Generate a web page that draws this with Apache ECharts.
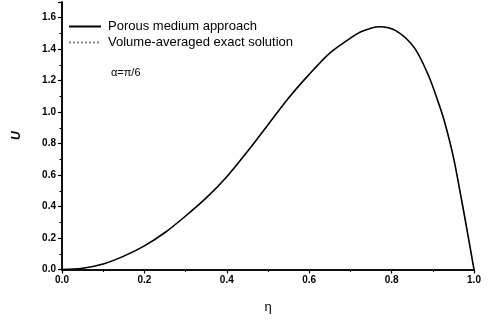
<!DOCTYPE html>
<html>
<head>
<meta charset="utf-8">
<script src="https://cdn.jsdelivr.net/npm/echarts@6/dist/echarts.min.js"></script>
<style>
html,body{margin:0;padding:0;background:#fff;}
#chart{width:489px;height:322px;}
</style>
</head>
<body>
<div id="chart"></div>
<script>
var etaValues = [0, 0.05, 0.1, 0.15, 0.2, 0.25, 0.3, 0.35, 0.4, 0.45, 0.5, 0.55, 0.6, 0.65, 0.7, 0.73, 0.77, 0.81, 0.855, 0.89, 0.915, 0.93, 0.95, 0.97, 0.986, 1.0];
var porousU = [0, 0.008, 0.035, 0.085, 0.15, 0.235, 0.34, 0.455, 0.59, 0.75, 0.92, 1.09, 1.24, 1.375, 1.47, 1.515, 1.543, 1.518, 1.41, 1.23, 1.05, 0.925, 0.714, 0.44, 0.208, 0];
var exactU = [0, 0.008, 0.035, 0.085, 0.15, 0.235, 0.34, 0.455, 0.59, 0.75, 0.92, 1.09, 1.24, 1.375, 1.47, 1.515, 1.543, 1.518, 1.41, 1.23, 1.05, 0.925, 0.714, 0.44, 0.208, 0];
var seriesNames = ['Porous medium approach', 'Volume-averaged exact solution'];
var annotation = 'α=π/6';
var xName = 'η';
var yName = 'U';

function pairs(xs, ys) { return xs.map(function (x, i) { return [x, ys[i]]; }); }

var FONT = 'Arial, "Liberation Sans", sans-serif';
var chart = echarts.init(document.getElementById('chart'));
var axisLine = { show: true, lineStyle: { color: '#000', width: 1.5 } };
chart.setOption({
  animation: false,
  backgroundColor: '#fff',
  grid: { left: 62, right: 15, top: 2, bottom: 52.5 },
  legend: {
    orient: 'vertical', left: 68, top: 20, padding: 0, itemWidth: 32, itemHeight: 14, itemGap: 3,
    itemStyle: { opacity: 0, borderWidth: 0 },
    textStyle: { fontFamily: FONT, fontSize: 13, color: '#000', padding: [0, 0, 0, 2] },
    data: seriesNames
  },
  xAxis: [{
    type: 'value', min: 0, max: 1, interval: 0.2,
    name: xName, nameLocation: 'middle', nameGap: 31,
    nameTextStyle: { fontFamily: FONT, fontSize: 13, color: '#000' },
    axisLine: axisLine,
    axisTick: { show: true, inside: false, length: 4, lineStyle: { color: '#000', width: 1.2 } },
    minorTick: { show: true, splitNumber: 2, length: 2.5, lineStyle: { color: '#000', width: 1 } },
    axisLabel: { fontFamily: FONT, fontSize: 10, fontWeight: 'bold', color: '#000', margin: 6,
      formatter: function (v) { return v.toFixed(1); } },
    splitLine: { show: false }
  }, {
    type: 'value', min: 0, max: 1, interval: 0.2, position: 'top',
    axisLine: axisLine,
    axisTick: { show: true, inside: true, length: 3, lineStyle: { color: '#000' } },
    axisLabel: { show: false }, splitLine: { show: false }
  }],
  yAxis: [{
    type: 'value', min: 0, max: 1.7, interval: 0.2,
    name: yName, nameLocation: 'middle', nameGap: 39, nameRotate: 90,
    nameTextStyle: { fontFamily: FONT, fontSize: 12, fontWeight: 'bold', fontStyle: 'italic', color: '#000' },
    axisLine: axisLine,
    axisTick: { show: true, inside: false, length: 4, lineStyle: { color: '#000', width: 1.2 } },
    minorTick: { show: true, splitNumber: 2, length: 2.5, lineStyle: { color: '#000', width: 1 } },
    axisLabel: { fontFamily: FONT, fontSize: 10, fontWeight: 'bold', color: '#000', margin: 6, showMaxLabel: false,
      formatter: function (v) { return v.toFixed(1); } },
    splitLine: { show: false }
  }, {
    type: 'value', min: 0, max: 1.7, interval: 0.2, position: 'right',
    axisLine: axisLine,
    axisTick: { show: true, inside: true, length: 3, lineStyle: { color: '#000' } },
    axisLabel: { show: false }, splitLine: { show: false }
  }],
  graphic: [{
    type: 'text', left: 111, top: 67,
    style: { text: annotation, font: '11px ' + FONT, fill: '#000' }
  }],
  series: [{
    name: seriesNames[1], type: 'line', data: pairs(etaValues, exactU),
    symbol: 'none', smooth: 0.3,
    itemStyle: { color: '#888' },
    lineStyle: { color: '#888', width: 1, type: 'dotted' }
  }, {
    name: seriesNames[0], type: 'line', data: pairs(etaValues, porousU),
    symbol: 'none', smooth: 0.3,
    itemStyle: { color: '#000' },
    lineStyle: { color: '#000', width: 1.6 }
  }]
});
</script>
</body>
</html>
